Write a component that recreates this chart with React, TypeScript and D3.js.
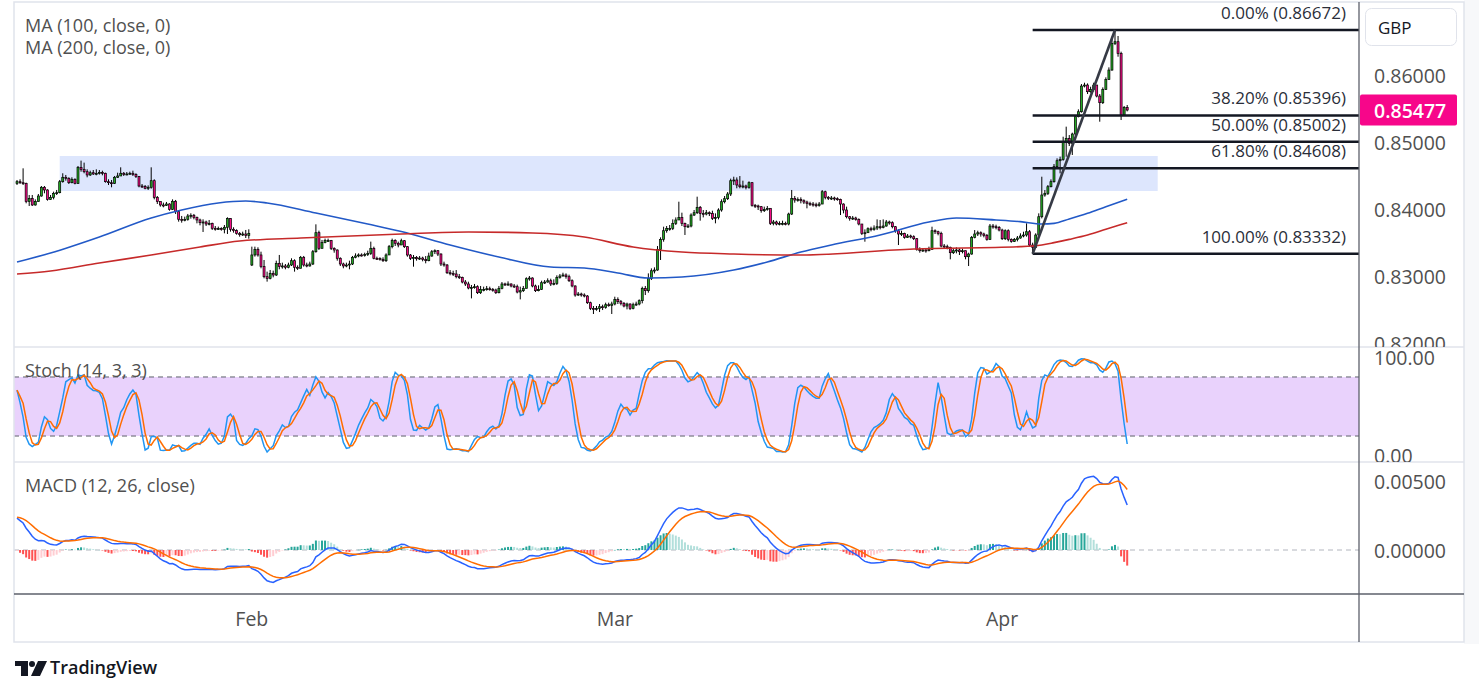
import * as d3 from "d3";

// EUR/GBP 4h bars, prices in points (1 point = 0.00001)
const POINT = 1e-5;

const closes = [
  84408, 84393, 84383, 84110, 84159, 84060, 84110, 84194, 84324, 84284,
  84144, 84174, 84234, 84244, 84408, 84473, 84458, 84393, 84443, 84383,
  84622, 84592, 84557, 84508, 84542, 84523, 84533, 84547, 84533, 84408,
  84393, 84383, 84473, 84493, 84533, 84513, 84523, 84533, 84513, 84483,
  84343, 84334, 84309, 84324, 84423, 84174, 84110, 84060, 84055, 84075,
  83995, 84115, 83960, 83846, 83836, 83846, 83896, 83906, 83876, 83836,
  83796, 83806, 83776, 83786, 83712, 83697, 83707, 83697, 83727, 83856,
  83697, 83677, 83637, 83617, 83627, 83607, 83637, 83314, 83398, 83314,
  83140, 82990, 82965, 83040, 83015, 83189, 83140, 83150, 83130, 83164,
  83229, 83130, 83115, 83279, 83164, 83150, 83179, 83363, 83647, 83413,
  83498, 83528, 83528, 83413, 83388, 83264, 83179, 83150, 83164, 83179,
  83279, 83299, 83314, 83309, 83319, 83338, 83413, 83264, 83259, 83249,
  83229, 83314, 83438, 83528, 83488, 83463, 83527, 83438, 83313, 83263,
  83278, 83258, 83268, 83248, 83229, 83298, 83363, 83378, 83328, 83179,
  83164, 83049, 83039, 83030, 82990, 82980, 82910, 82881, 82821, 82831,
  82841, 82751, 82801, 82801, 82811, 82801, 82791, 82751, 82816, 82881,
  82876, 82881, 82851, 82841, 82761, 82781, 82816, 82960, 82970, 82851,
  82781, 82801, 82900, 82910, 82930, 82881, 82890, 82980, 83000, 83015,
  82990, 82930, 82851, 82716, 82731, 82716, 82701, 82602, 82517, 82502,
  82517, 82542, 82532, 82572, 82562, 82582, 82651, 82617, 82592, 82552,
  82582, 82517, 82572, 82582, 82632, 82816, 82781, 82965, 83079, 83089,
  83398, 83547, 83676, 83711, 83711, 83786, 83836, 83875, 83786, 83736,
  83746, 83910, 83945, 84025, 83935, 83925, 83945, 83935, 83860, 83875,
  83985, 84109, 84154, 84224, 84423, 84433, 84358, 84333, 84343, 84323,
  84393, 84055, 84045, 84035, 83975, 83995, 84010, 83786, 83806, 83776,
  83786, 83786, 83776, 83925, 84159, 84134, 84144, 84124, 84104, 84084,
  84074, 84064, 84055, 84074, 84258, 84174, 84159, 84164, 84154, 84144,
  84074, 83985, 83885, 83860, 83865, 83845, 83776, 83636, 83646, 83706,
  83696, 83716, 83736, 83726, 83746, 83806, 83796, 83736, 83676, 83627,
  83636, 83577, 83597, 83587, 83557, 83398, 83378, 83388, 83378, 83398,
  83676, 83661, 83636, 83447, 83438, 83428, 83348, 83378, 83388, 83363,
  83378, 83288, 83328, 83577, 83627, 83646, 83627, 83607, 83547, 83746,
  83736, 83726, 83686, 83557, 83676, 83547, 83517, 83547, 83567, 83597,
  83612, 83661, 83462, 83428, 83612, 83885, 84209, 84234, 84333, 84408,
  84632, 84721, 84741, 85005, 85054, 84980, 85119, 85378, 85452, 85835,
  85850, 85751, 85786, 85850, 85686, 85587, 85786, 85935, 86074, 86472,
  86497, 86323, 85403, 85517, 85477,
];

const highs = [
  84433, 84443, 84607, 84393, 84209, 84209, 84144, 84224, 84343, 84343,
  84294, 84209, 84259, 84284, 84433, 84533, 84508, 84473, 84473, 84458,
  84642, 84722, 84692, 84592, 84572, 84582, 84592, 84582, 84572, 84542,
  84443, 84433, 84493, 84542, 84622, 84552, 84552, 84557, 84572, 84533,
  84493, 84373, 84358, 84353, 84622, 84443, 84194, 84110, 84095, 84105,
  84085, 84144, 84135, 83985, 83896, 83886, 83926, 83936, 83926, 83886,
  83856, 83846, 83826, 83836, 83796, 83746, 83737, 83727, 83761, 83876,
  83861, 83727, 83697, 83657, 83662, 83687, 83697, 83438, 83438, 83428,
  83363, 83239, 83065, 83090, 83080, 83229, 83314, 83199, 83179, 83199,
  83264, 83249, 83159, 83299, 83299, 83199, 83214, 83388, 83771, 83677,
  83538, 83558, 83558, 83538, 83428, 83398, 83279, 83199, 83199, 83229,
  83299, 83338, 83338, 83338, 83348, 83378, 83513, 83438, 83289, 83279,
  83279, 83338, 83463, 83558, 83548, 83513, 83557, 83537, 83447, 83328,
  83313, 83298, 83298, 83288, 83298, 83348, 83388, 83398, 83388, 83338,
  83214, 83179, 83089, 83079, 83089, 83030, 82990, 82940, 82915, 82866,
  82881, 82861, 82851, 82841, 82851, 82841, 82821, 82811, 82851, 82910,
  82900, 82920, 82890, 82881, 82871, 82841, 82851, 82980, 83000, 82980,
  82871, 82861, 82930, 82940, 82965, 82960, 82950, 83010, 83030, 83049,
  83039, 83020, 82950, 82861, 82761, 82751, 82741, 82716, 82617, 82552,
  82552, 82582, 82572, 82602, 82602, 82617, 82691, 82681, 82642, 82612,
  82602, 82592, 82602, 82617, 82651, 82841, 82851, 83039, 83114, 83129,
  83447, 83577, 83736, 83746, 83761, 83845, 83875, 84109, 83945, 83796,
  83776, 83935, 83985, 84184, 84045, 83985, 83985, 83965, 83975, 83935,
  84010, 84144, 84194, 84253, 84453, 84482, 84472, 84492, 84423, 84363,
  84413, 84403, 84075, 84065, 84045, 84035, 84045, 84010, 83836, 83826,
  83816, 83826, 83811, 83945, 84284, 84194, 84174, 84174, 84144, 84124,
  84109, 84104, 84094, 84104, 84283, 84273, 84194, 84194, 84184, 84174,
  84154, 84084, 84035, 83895, 83895, 83885, 83860, 83776, 83696, 83726,
  83736, 83756, 83845, 83836, 83845, 83836, 83826, 83816, 83746, 83696,
  83676, 83646, 83627, 83617, 83607, 83567, 83428, 83418, 83418, 83438,
  83736, 83696, 83676, 83661, 83477, 83467, 83438, 83413, 83428, 83413,
  83408, 83378, 83348, 83597, 83686, 83676, 83666, 83646, 83627, 83776,
  83776, 83766, 83746, 83706, 83696, 83696, 83562, 83567, 83597, 83637,
  83661, 83786, 83686, 83497, 83637, 83935, 84482, 84283, 84358, 84442,
  84671, 84756, 84781, 85079, 85229, 85104, 85139, 85403, 85487, 85865,
  85885, 85875, 85825, 85885, 85835, 85716, 85815, 85965, 86114, 86572,
  86672, 86582, 86348, 85537, 85552,
];

const lows = [
  84358, 84373, 84358, 84085, 84045, 84045, 84050, 84110, 84184, 84234,
  84125, 84135, 84144, 84209, 84234, 84393, 84423, 84373, 84383, 84368,
  84373, 84557, 84533, 84473, 84493, 84508, 84503, 84513, 84503, 84393,
  84358, 84324, 84373, 84463, 84493, 84493, 84503, 84513, 84493, 84463,
  84324, 84314, 84294, 84284, 84304, 84144, 84075, 84035, 84025, 84045,
  83975, 83985, 83926, 83811, 83796, 83816, 83826, 83856, 83846, 83786,
  83756, 83657, 83746, 83756, 83687, 83677, 83687, 83677, 83637, 83627,
  83662, 83647, 83617, 83587, 83597, 83567, 83557, 83149, 83289, 83289,
  83115, 82965, 82916, 82950, 82980, 83000, 83100, 83110, 83100, 83115,
  83149, 83065, 83090, 83130, 83140, 83130, 83140, 83164, 83348, 83388,
  83413, 83488, 83508, 83388, 83348, 83229, 83149, 83115, 83130, 83100,
  83164, 83264, 83279, 83289, 83289, 83299, 83314, 83249, 83239, 83229,
  83209, 83209, 83314, 83413, 83448, 83428, 83477, 83418, 83288, 83239,
  83139, 83229, 83239, 83219, 83189, 83219, 83288, 83328, 83298, 83149,
  83139, 83030, 83010, 83000, 82965, 82955, 82890, 82851, 82801, 82666,
  82811, 82731, 82731, 82771, 82781, 82781, 82766, 82731, 82741, 82801,
  82851, 82851, 82831, 82821, 82741, 82651, 82761, 82816, 82930, 82831,
  82761, 82771, 82791, 82881, 82900, 82851, 82861, 82866, 82960, 82990,
  82960, 82910, 82831, 82691, 82701, 82691, 82681, 82582, 82492, 82433,
  82482, 82462, 82492, 82512, 82542, 82433, 82562, 82582, 82562, 82532,
  82502, 82492, 82502, 82552, 82562, 82592, 82716, 82751, 82940, 83039,
  83079, 83239, 83512, 83646, 83676, 83686, 83761, 83836, 83746, 83612,
  83716, 83726, 83895, 83925, 83826, 83875, 83905, 83895, 83836, 83786,
  83845, 83960, 84084, 84134, 84194, 84358, 84309, 84309, 84309, 84293,
  84303, 84035, 84015, 83985, 83945, 83955, 83975, 83761, 83756, 83756,
  83756, 83756, 83756, 83756, 83910, 84094, 84109, 84084, 84074, 84010,
  84045, 84035, 84025, 84035, 84074, 84144, 84134, 84134, 84124, 84124,
  83910, 83935, 83860, 83826, 83836, 83826, 83756, 83612, 83512, 83656,
  83666, 83676, 83686, 83696, 83711, 83736, 83766, 83711, 83646, 83462,
  83597, 83557, 83567, 83562, 83537, 83378, 83348, 83358, 83348, 83368,
  83388, 83627, 83607, 83428, 83408, 83398, 83249, 83328, 83338, 83313,
  83338, 83249, 83149, 83318, 83562, 83597, 83587, 83577, 83527, 83537,
  83706, 83696, 83666, 83537, 83537, 83517, 83497, 83507, 83517, 83557,
  83577, 83587, 83438, 83332, 83462, 83597, 83860, 84184, 84209, 84323,
  84393, 84607, 84532, 84721, 84781, 84940, 84806, 85089, 85368, 85438,
  85815, 85716, 85736, 85751, 85666, 85303, 85567, 85776, 85925, 86064,
  86447, 86273, 85328, 85388, 85457,
];

// bars whose open is not the previous close (first bar, weekend gap)
const openBars = [0, 77];
const openValues = [84383, 83164];

// moving averages (bar index, value in points)
const ma100Bars = [0, 11, 27, 44, 54, 66, 75, 82, 98, 115, 126, 142, 158, 175, 186, 197, 207, 218, 235, 246, 257, 267, 283, 299, 308, 321, 329, 336, 340, 345, 351, 357, 364];
const ma100Values = [83209, 83343, 83582, 83866, 83985, 84090, 84119, 84090, 83940, 83776, 83665, 83463, 83284, 83134, 83119, 83045, 82970, 82985, 83090, 83209, 83358, 83463, 83612, 83806, 83866, 83836, 83811, 83776, 83786, 83851, 83936, 84035, 84145];
const ma200Bars = [0, 11, 27, 44, 60, 73, 93, 126, 148, 169, 186, 202, 218, 235, 257, 294, 329, 336, 340, 345, 351, 357, 364];
const ma200Values = [83030, 83075, 83194, 83313, 83433, 83522, 83567, 83627, 83657, 83642, 83582, 83433, 83358, 83328, 83313, 83403, 83438, 83463, 83498, 83547, 83612, 83697, 83796];

const monthNames = ["Feb", "Mar", "Apr"];
const monthBars = [77, 196, 323];

const priceTicks = [0.82, 0.83, 0.84, 0.85, 0.86];
const stochTicks = [100, 0];
const stochBands = [80, 20];
const macdTicks = [0.005, 0];

const fibRatios = [0, 0.382, 0.5, 0.618, 1];
const swingLowBar = 333;
const swingHighBar = 360;

// supply zone
const zoneHigh = 0.84791;
const zoneLow = 0.84269;
const zoneFromBar = 14;
const zoneToBar = 374;

// MACD state carried in from before the first visible bar
const macdStart = 0.0025;
const signalStart = 0.0024;

const W = 1479;
const H = 695;
const LEFT = 14;
const PLOT_R = 1359;
const FRAME_R = 1464;
const TOP = 2;
const MAIN_B = 347;
const STOCH_B = 462;
const MACD_B = 594;
const AXIS_B = 642;

const FONT = "'Open Sans', 'Noto Sans', sans-serif";
const UP = "#23a823";
const DOWN = "#f20c84";
const AXIS_TEXT = "#505050";

function ema(values: number[], n: number, seed: number) {
  const k = 2 / (n + 1);
  let prev = seed;
  return values.map((v) => (prev = prev + k * (v - prev)));
}

function sma(values: number[], n: number) {
  return values.map((_, i) => d3.mean(values.slice(Math.max(0, i - n + 1), i + 1)) as number);
}

export default function App() {
  const n = closes.length;
  const c = closes.map((v) => v * POINT);
  const o = c.map((v, i) => {
    const k = openBars.indexOf(i);
    return k >= 0 ? openValues[k] * POINT : c[i - 1];
  });
  const hi = highs.map((v, i) => Math.max(v * POINT, o[i], c[i]));
  const lo = lows.map((v, i) => Math.min(v * POINT, o[i], c[i]));

  const x = d3.scaleLinear().domain([0, n - 1]).range([17, 17 + 3.05 * (n - 1)]);
  const yP = d3.scaleLinear().domain([0.82, 0.86]).range([343, 75]);
  const yS = d3.scaleLinear().domain([0, 100]).range([455.7, 357.3]);
  const yM = d3.scaleLinear().domain([0, 0.005]).range([550, 481]);

  // Stochastic (14, 3, 3)
  const rawK = c.map((v, i) => {
    const from = Math.max(0, i - 13);
    const hh = d3.max(hi.slice(from, i + 1)) as number;
    const ll = d3.min(lo.slice(from, i + 1)) as number;
    return hh === ll ? 50 : (100 * (v - ll)) / (hh - ll);
  });
  const stochK = sma(rawK, 3);
  const stochD = sma(stochK, 3);

  // MACD (12, 26, 9)
  const ema12 = ema(c, 12, c[0]);
  const ema26 = ema(c, 26, c[0] - macdStart);
  const macd = ema12.map((v, i) => v - ema26[i]);
  const signal = ema(macd, 9, signalStart);
  const hist = macd.map((v, i) => v - signal[i]);
  const histColor = (h: number, prev: number) =>
    h >= 0 ? (h > prev ? "#26a69a" : "#b2dfdb") : h < prev ? "#ff5252" : "#ffcdd2";

  const seriesLine = (scale: d3.ScaleLinear<number, number>) =>
    d3.line<number>().x((_, i) => x(i)).y((d) => scale(d));

  const maLine = d3
    .line<number[]>()
    .x((d) => x(d[0]))
    .y((d) => yP(d[1] * POINT))
    .curve(d3.curveMonotoneX);
  const ma100 = ma100Bars.map((b, i) => [b, ma100Values[i]]);
  const ma200 = ma200Bars.map((b, i) => [b, ma200Values[i]]);

  const swingHigh = hi[swingHighBar];
  const swingLow = lo[swingLowBar];
  const fibs = fibRatios.map((r) => ({ r, p: swingHigh - r * (swingHigh - swingLow) }));
  const last = c[n - 1];
  const fmt5 = d3.format(".5f");
  const fmt2 = d3.format(".2f");

  return (
    <svg width={W} height={H} style={{ position: "absolute", left: 0, top: 0, background: "#fff" }}>
      <defs>
        <clipPath id="cMain"><rect x={LEFT} y={TOP} width={PLOT_R - LEFT} height={MAIN_B - TOP} /></clipPath>
        <clipPath id="cStoch"><rect x={LEFT} y={MAIN_B} width={PLOT_R - LEFT} height={STOCH_B - MAIN_B} /></clipPath>
        <clipPath id="cMacd"><rect x={LEFT} y={STOCH_B} width={PLOT_R - LEFT} height={MACD_B - STOCH_B} /></clipPath>
        <clipPath id="aMain"><rect x={PLOT_R} y={TOP} width={FRAME_R - PLOT_R} height={MAIN_B - TOP} /></clipPath>
        <clipPath id="aStoch"><rect x={PLOT_R} y={MAIN_B} width={FRAME_R - PLOT_R} height={STOCH_B - MAIN_B} /></clipPath>
        <clipPath id="aMacd"><rect x={PLOT_R} y={STOCH_B} width={FRAME_R - PLOT_R} height={MACD_B - STOCH_B} /></clipPath>
      </defs>

      <rect x={FRAME_R} y={0} width={W - FRAME_R} height={AXIS_B + 2} fill="#f7f8fa" />

      {/* main pane */}
      <g clipPath="url(#cMain)">
        <rect
          x={x(zoneFromBar)}
          y={yP(zoneHigh)}
          width={x(zoneToBar) - x(zoneFromBar)}
          height={yP(zoneLow) - yP(zoneHigh)}
          fill="#dde6fd"
        />
        {c.map((cl, i) => {
          const up = cl >= o[i];
          const top = yP(Math.max(o[i], cl));
          const h = Math.max(1, Math.abs(yP(o[i]) - yP(cl)));
          return (
            <g key={i}>
              <line x1={x(i)} x2={x(i)} y1={yP(hi[i])} y2={yP(lo[i])} stroke="#000" strokeWidth={1} />
              <rect x={x(i) - 1} y={top} width={2} height={h} fill={up ? UP : DOWN} stroke="#000" strokeWidth={0.7} />
            </g>
          );
        })}
        <path d={maLine(ma100) || ""} fill="none" stroke="#2259c7" strokeWidth={1.6} />
        <path d={maLine(ma200) || ""} fill="none" stroke="#c62a2a" strokeWidth={1.6} />

        {fibs.map((f) => (
          <g key={f.r}>
            <line x1={x(swingLowBar)} x2={PLOT_R} y1={yP(f.p)} y2={yP(f.p)} stroke="#131722" strokeWidth={2.5} />
            <text x={1346} y={yP(f.p) - 11} textAnchor="end" fontFamily={FONT} fontSize={17} fill="#2a2e39">
              {`${(f.r * 100).toFixed(2)}% (${fmt5(f.p)})`}
            </text>
          </g>
        ))}
        <line
          x1={x(swingLowBar)}
          y1={yP(swingLow)}
          x2={x(swingHighBar)}
          y2={yP(swingHigh)}
          stroke="#363a45"
          strokeWidth={2.6}
        />
      </g>

      <text x={25} y={32} fontFamily={FONT} fontSize={18} fill={AXIS_TEXT}>MA (100, close, 0)</text>
      <text x={25} y={54} fontFamily={FONT} fontSize={18} fill={AXIS_TEXT}>MA (200, close, 0)</text>

      {/* stochastic pane */}
      <g clipPath="url(#cStoch)">
        <rect x={LEFT} y={yS(stochBands[0])} width={PLOT_R - LEFT} height={yS(stochBands[1]) - yS(stochBands[0])} fill="#e9d2fc" />
        {stochBands.map((b) => (
          <line key={b} x1={LEFT} x2={PLOT_R} y1={yS(b)} y2={yS(b)} stroke="#5d606b" strokeWidth={1} strokeDasharray="5 4" />
        ))}
        <path d={seriesLine(yS)(stochK) || ""} fill="none" stroke="#2196f3" strokeWidth={1.5} />
        <path d={seriesLine(yS)(stochD) || ""} fill="none" stroke="#ff6d00" strokeWidth={1.5} />
      </g>
      <text x={25} y={377} fontFamily={FONT} fontSize={18} fill={AXIS_TEXT}>Stoch (14, 3, 3)</text>

      {/* MACD pane */}
      <g clipPath="url(#cMacd)">
        <line x1={LEFT} x2={PLOT_R} y1={yM(0)} y2={yM(0)} stroke="#b2b5be" strokeWidth={1} strokeDasharray="5 4" />
        {hist.map((h, i) => (
          <rect
            key={i}
            x={x(i) - 1}
            y={Math.min(yM(h), yM(0))}
            width={2}
            height={Math.max(0.5, Math.abs(yM(h) - yM(0)))}
            fill={histColor(h, i > 0 ? hist[i - 1] : h)}
          />
        ))}
        <path d={seriesLine(yM)(macd) || ""} fill="none" stroke="#2962ff" strokeWidth={1.5} />
        <path d={seriesLine(yM)(signal) || ""} fill="none" stroke="#ff6d00" strokeWidth={1.5} />
      </g>
      <text x={25} y={492} fontFamily={FONT} fontSize={18} fill={AXIS_TEXT}>MACD (12, 26, close)</text>

      {/* frame and separators */}
      <rect x={LEFT} y={TOP} width={FRAME_R - LEFT} height={AXIS_B - TOP} fill="none" stroke="#e0e3eb" strokeWidth={1.5} />
      <line x1={LEFT} x2={FRAME_R} y1={MAIN_B} y2={MAIN_B} stroke="#e0e3eb" strokeWidth={1.5} />
      <line x1={LEFT} x2={FRAME_R} y1={STOCH_B} y2={STOCH_B} stroke="#e0e3eb" strokeWidth={1.5} />
      <line x1={LEFT} x2={FRAME_R} y1={MACD_B} y2={MACD_B} stroke="#5d606b" strokeWidth={1.3} />
      <line x1={PLOT_R} x2={PLOT_R} y1={TOP} y2={AXIS_B} stroke="#5d606b" strokeWidth={1.3} />

      {/* price axis */}
      <g clipPath="url(#aMain)">
        {priceTicks.map((t) => (
          <text key={t} x={1374} y={yP(t)} dominantBaseline="central" fontFamily={FONT} fontSize={19.5} fill={AXIS_TEXT}>
            {fmt5(t)}
          </text>
        ))}
        <rect x={PLOT_R + 1} y={yP(last) - 15.5} width={97} height={31} rx={2} fill="#f7068a" />
        <text x={1374} y={yP(last)} dominantBaseline="central" fontFamily={FONT} fontSize={19.5} fontWeight={600} fill="#fff">
          {fmt5(last)}
        </text>
        <rect x={1365.5} y={8.5} width={91} height={37} rx={6} fill="#fff" stroke="#e0e3eb" />
        <text x={1378} y={27} dominantBaseline="central" fontFamily={FONT} fontSize={17} fill="#131722">GBP</text>
      </g>
      <g clipPath="url(#aStoch)">
        {stochTicks.map((t) => (
          <text key={t} x={1374} y={yS(t)} dominantBaseline="central" fontFamily={FONT} fontSize={19.5} fill={AXIS_TEXT}>
            {fmt2(t)}
          </text>
        ))}
      </g>
      <g clipPath="url(#aMacd)">
        {macdTicks.map((t) => (
          <text key={t} x={1374} y={yM(t)} dominantBaseline="central" fontFamily={FONT} fontSize={19.5} fill={AXIS_TEXT}>
            {fmt5(t)}
          </text>
        ))}
      </g>

      {/* time axis */}
      {monthBars.map((b, i) => (
        <text key={b} x={x(b)} y={618} textAnchor="middle" dominantBaseline="central" fontFamily={FONT} fontSize={19.5} fill={AXIS_TEXT}>
          {monthNames[i]}
        </text>
      ))}

      {/* branding */}
      <g fill="#131722">
        <path d="M15 661 H28 V676 H21 V666 H15 Z" />
        <circle cx={32} cy={664} r={3} />
        <path d="M38 661 H47 L40 676 H31 Z" />
        <text x={50} y={674} fontFamily={FONT} fontSize={18} fontWeight={600}>TradingView</text>
      </g>
    </svg>
  );
}
